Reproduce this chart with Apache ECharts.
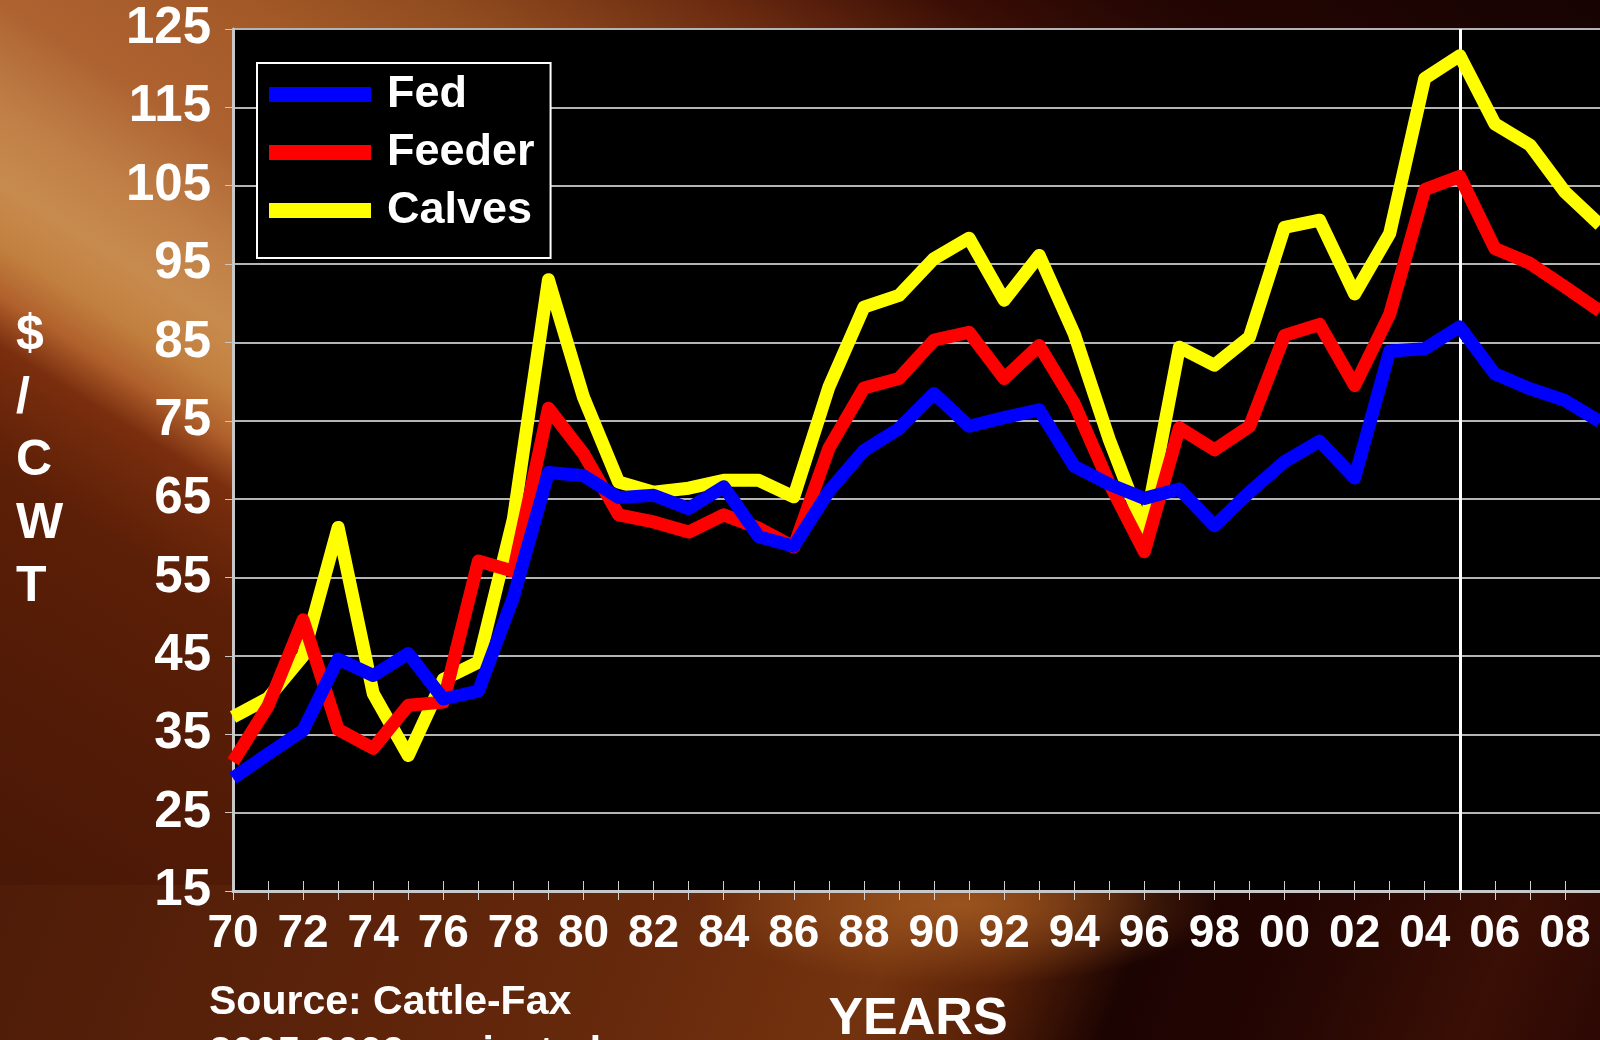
<!DOCTYPE html>
<html>
<head>
<meta charset="utf-8">
<title>Cattle prices</title>
<script src="https://cdn.jsdelivr.net/npm/echarts/dist/echarts.min.js"></script>
<style>
  html, body {
    margin: 0;
    padding: 0;
  }
  body {
    position: relative;
    width: 1600px;
    height: 1040px;
    overflow: hidden;
    background: linear-gradient(212deg,
      #160302 0%, #240603 14%, #3a0e05 20%, #6a2a10 27%, #8e4a1e 35%,
      #a45a28 42%, #ad6230 49%, #bf7e46 54%, #c88b4e 58%, #c2803f 61%,
      #b0612c 63.5%, #7a2e0e 66%, #5c1f07 72%, #521b06 82%, #4a1806 92%, #3e1405 100%);
  }
  /* strip under the x axis */
  .bottom-band {
    position: absolute;
    left: 0;
    top: 885px;
    width: 1600px;
    height: 155px;
    background:
      radial-gradient(ellipse 260px 80px at 960px 20px, rgba(160, 88, 32, 0.9), rgba(160, 88, 32, 0) 100%),
      linear-gradient(112deg, #4e1c08 0%, #5a220a 20%, #66290c 40%, #74330f 55%, #5a2208 62%,
        #1c0402 70%, #240603 80%, #3a0f05 92%, #2c0804 100%);
  }
  #echarts-container {
    position: absolute;
    left: 0;
    top: 0;
    width: 1600px;
    height: 1040px;
  }
</style>
</head>
<body>
<div class="bottom-band"></div>
<div id="echarts-container"></div>
<script>
// years 1970 - 2009 (2005-2009 projected)
var years = ['70', '71', '72', '73', '74', '75', '76', '77', '78', '79',
             '80', '81', '82', '83', '84', '85', '86', '87', '88', '89',
             '90', '91', '92', '93', '94', '95', '96', '97', '98', '99',
             '00', '01', '02', '03', '04', '05', '06', '07', '08', '09'];

// $/CWT
var fed = [29.4, 32.5, 35.5, 44.6, 42.5, 45.3, 39.5, 40.5, 52.5, 68.4,
           68.0, 65.2, 65.5, 63.8, 66.6, 60.2, 59.0, 66.0, 71.2, 74.0,
           78.5, 74.3, 75.4, 76.4, 69.2, 66.9, 65.1, 66.3, 61.6, 65.9,
           69.8, 72.4, 67.7, 83.9, 84.2, 87.0, 81.0, 79.1, 77.6, 74.9];
var feeder = [31.5, 38.6, 49.6, 35.6, 33.2, 38.7, 39.1, 57.1, 55.8, 76.6,
              70.8, 63.0, 62.1, 60.8, 63.0, 61.3, 58.9, 71.5, 79.2, 80.4,
              85.3, 86.3, 80.4, 84.6, 77.2, 67.0, 58.3, 74.1, 71.3, 74.3,
              85.9, 87.3, 79.5, 88.6, 104.5, 106.2, 97.0, 95.1, 92.1, 89.0];
var calves = [37.2, 39.6, 45.0, 61.4, 40.2, 32.3, 42.0, 44.2, 62.5, 93.0,
              78.0, 67.2, 65.9, 66.4, 67.4, 67.4, 65.3, 79.3, 89.5, 91.0,
              95.7, 98.3, 90.4, 96.1, 86.1, 72.6, 61.0, 84.4, 82.1, 85.7,
              99.7, 100.6, 91.2, 98.9, 118.7, 121.6, 112.9, 110.2, 104.2, 100.0];

var projectedFrom = '05';

var font = '"Liberation Sans", Arial, sans-serif';

var myChart = echarts.init(document.getElementById('echarts-container'));

var lineSeries = function (name, color, data) {
  return {
    name: name,
    type: 'line',
    data: data,
    showSymbol: false,
    symbol: 'none',
    clip: true,
    lineStyle: { color: color, width: 13, join: 'round', cap: 'butt' },
    itemStyle: { color: color }
  };
};

var calvesSeries = lineSeries('Calves', '#ffff00', calves);
// white divider where projections start
calvesSeries.markLine = {
  silent: true,
  symbol: 'none',
  label: { show: false },
  lineStyle: { color: '#ffffff', width: 3, type: 'solid' },
  data: [{ xAxis: projectedFrom }],
  z: 1
};

var options = {
  animation: false,
  textStyle: { fontFamily: font },
  grid: {
    left: 233,
    top: 29,
    width: 1370,
    height: 862,
    show: true,
    backgroundColor: '#000000',
    borderWidth: 0
  },
  legend: {
    data: ['Fed', 'Feeder', 'Calves'],
    orient: 'vertical',
    left: 257,
    top: 63,
    icon: 'rect',
    itemWidth: 102,
    itemHeight: 15,
    itemGap: 13,
    padding: [9, 16, 25, 12],
    backgroundColor: '#000000',
    borderColor: '#ffffff',
    borderWidth: 2,
    textStyle: {
      color: '#ffffff',
      fontSize: 45,
      fontWeight: 'bold',
      fontFamily: font,
      padding: [0, 0, 0, 11]
    }
  },
  xAxis: [
    {
      type: 'category',
      data: years,
      boundaryGap: false,
      axisLine: { lineStyle: { color: '#c8c8c8', width: 3 } },
      axisTick: { show: true, interval: 0, length: 9, lineStyle: { color: '#d0d0d0', width: 1 } },
      axisLabel: {
        interval: 1,
        color: '#ffffff',
        fontSize: 46,
        fontWeight: 'bold',
        fontFamily: font,
        margin: 20
      },
      splitLine: { show: false }
    },
    {
      // inner half of the crossing year ticks
      type: 'category',
      data: years,
      boundaryGap: false,
      position: 'bottom',
      axisLine: { show: false },
      axisTick: { show: true, inside: true, interval: 0, length: 10, lineStyle: { color: '#d0d0d0', width: 1 } },
      axisLabel: { show: false },
      splitLine: { show: false }
    }
  ],
  yAxis: {
    type: 'value',
    min: 15,
    max: 125,
    interval: 10,
    axisLine: { show: true, lineStyle: { color: '#c8c8c8', width: 3 } },
    axisTick: { show: true, length: 8, lineStyle: { color: '#c8c8c8', width: 1 } },
    axisLabel: {
      color: '#ffffff',
      fontSize: 51,
      fontWeight: 'bold',
      fontFamily: font,
      margin: 22
    },
    splitLine: { show: true, lineStyle: { color: '#b4b4b4', width: 2 } }
  },
  graphic: [
    {
      type: 'text',
      left: 16,
      top: 304,
      style: {
        text: '$\n/\nC\nW\nT',
        fill: '#ffffff',
        font: 'bold 50px ' + font,
        lineHeight: 63,
        textAlign: 'left'
      }
    },
    {
      type: 'text',
      x: 918,
      y: 1020,
      style: {
        text: 'YEARS',
        fill: '#ffffff',
        font: 'bold 52px ' + font,
        textAlign: 'center',
        textVerticalAlign: 'middle'
      }
    },
    {
      type: 'text',
      x: 209,
      y: 1003,
      style: {
        text: 'Source: Cattle-Fax',
        fill: '#ffffff',
        font: 'bold 41px ' + font,
        textAlign: 'left',
        textVerticalAlign: 'middle'
      }
    },
    {
      type: 'text',
      x: 209,
      y: 1054,
      style: {
        text: '2005-2009 projected',
        fill: '#ffffff',
        font: 'bold 41px ' + font,
        textAlign: 'left',
        textVerticalAlign: 'middle'
      }
    }
  ],
  series: [
    calvesSeries,
    lineSeries('Feeder', '#ff0000', feeder),
    lineSeries('Fed', '#0000ff', fed)
  ]
};

myChart.setOption(options);
</script>
</body>
</html>
